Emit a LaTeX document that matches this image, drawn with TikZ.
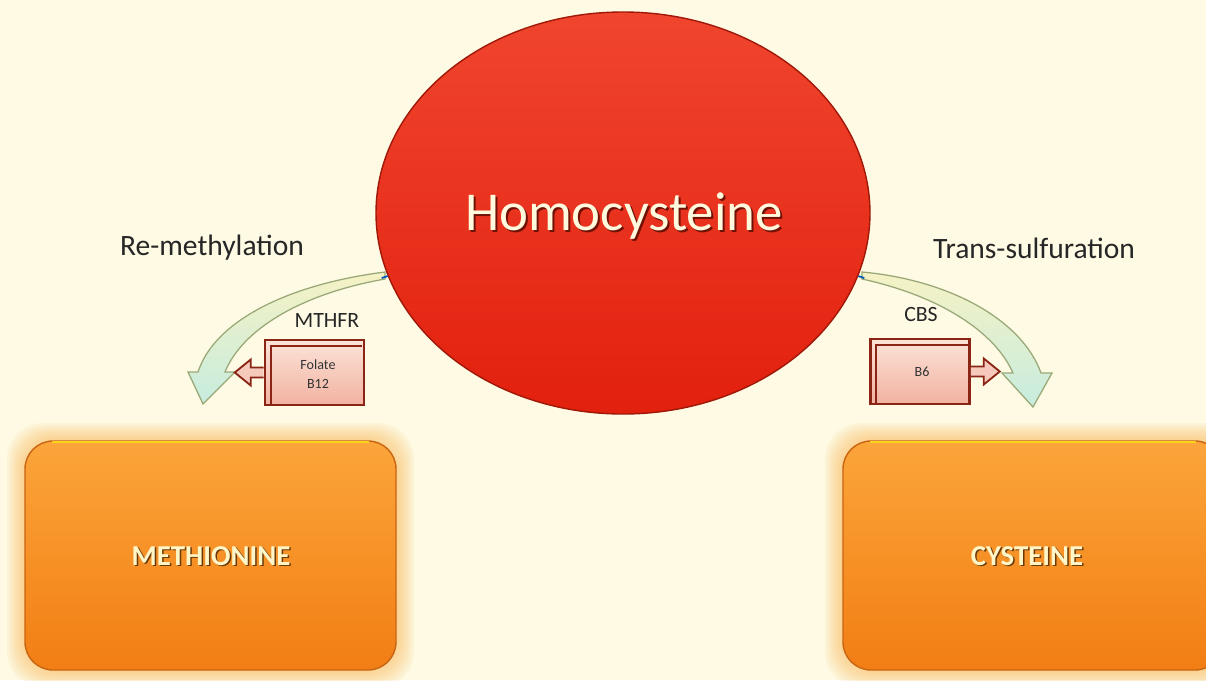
\documentclass[tikz,border=0pt]{standalone}
\usepackage{fontspec}
\setmainfont{Carlito}
\usetikzlibrary{shapes.geometric,calc}
\definecolor{bg}{HTML}{FEFAE4}
\definecolor{redtop}{HTML}{F0452E}
\definecolor{redbot}{HTML}{E2200E}
\definecolor{redline}{HTML}{A01808}
\definecolor{orgtop}{HTML}{FBA53A}
\definecolor{orgbot}{HTML}{F27E14}
\definecolor{orgline}{HTML}{C86412}
\definecolor{glow}{HTML}{FBB040}
\definecolor{pinktop}{HTML}{FBE3D8}
\definecolor{pinkbot}{HTML}{F2B2A0}
\definecolor{boxline}{HTML}{8A2414}
\definecolor{bandline}{HTML}{9AA878}
\definecolor{bandyel}{HTML}{F6F2C4}
\definecolor{bandcyan}{HTML}{C6ECDF}
\definecolor{txtlight}{HTML}{FFF6C8}
\definecolor{shadowbrown}{HTML}{6A3A08}
\tikzset{
  lbl/.style={font=\fontsize{21}{24}\selectfont, text=black!85},
  enz/.style={font=\fontsize{15.5}{18}\selectfont, text=black!85},
  vit/.style={font=\fontsize{10}{12}\selectfont, text=black!80},
  vitbox/.style={draw=boxline, line width=1.8pt, top color=pinktop, bottom color=pinkbot, minimum width=99*0.025cm, minimum height=65*0.025cm, inner sep=0pt, align=center},
  prodbox/.style={draw=orgline, line width=1pt, rounded corners=0.7cm, top color=orgtop, bottom color=orgbot, inner sep=0pt},
  blockarr/.style={draw=boxline, line width=1.3pt, fill=pinkbot!70!white, line join=miter},
  band/.style={draw=bandline, line width=0.9pt, top color=bandyel, bottom color=bandcyan},
  prodtxt/.style={font=\bfseries\fontsize{20.5}{24}\selectfont},
  hctxt/.style={font=\fontsize{39}{46}\selectfont},
}
\begin{document}
\begin{tikzpicture}[x=0.025cm,y=-0.025cm]
\useasboundingbox (0,0) rectangle (1206,680);
\fill[bg] (0,0) rectangle (1206,680);

% glows
\foreach \g in {18,16,...,2}{
  \fill[glow, opacity=0.07, rounded corners=0.9cm] (25-\g,441-\g) rectangle (396+\g,670+\g);
  \fill[glow, opacity=0.07, rounded corners=0.9cm] (843-\g,441-\g) rectangle (1226+\g,670+\g);
}

% product boxes
\node[prodbox, minimum width=371*0.025cm, minimum height=229*0.025cm] (met) at (210.5,555.5) {};
\node[prodbox, minimum width=380*0.025cm, minimum height=229*0.025cm] (cys) at (1033,555.5) {};
\draw[yellow!60!orgtop, line width=1.2pt] ($(met.north west)+(28,2)$) -- ($(met.north east)+(-28,2)$);
\draw[yellow!60!orgtop, line width=1.2pt] ($(cys.north west)+(28,2)$) -- ($(cys.north east)+(-28,2)$);

\node[prodtxt, text=shadowbrown] at (212.5,557.5) {METHIONINE};
\node[prodtxt, text=txtlight] (mett) at (211,556) {METHIONINE};
\node[prodtxt, text=shadowbrown] at (1028.5,557.5) {CYSTEINE};
\node[prodtxt, text=txtlight] (cyst) at (1027,556) {CYSTEINE};

% curved band arrows
\coordinate (lhead) at (203,404);
\coordinate (rhead) at (1033,407);
\draw[band] (385,272) .. controls (290,284) and (215,320) .. (198,372)
   -- (188,372) -- (lhead) -- (235,372) -- (225,372)
   .. controls (242,330) and (300,294) .. (385,279) -- cycle;
\draw[band] (862,272) .. controls (950,280) and (1022,320) .. (1041,373)
   -- (1052,373) -- (rhead) -- (1002,373) -- (1013,373)
   .. controls (995,332) and (940,296) .. (862,279) -- cycle;

% homocysteine ellipse
\node[ellipse, draw=redline, line width=1pt, top color=redtop, bottom color=redbot,
      minimum width=494*0.025cm, minimum height=402*0.025cm, inner sep=0pt] (hc) at (623,213) {};
\draw[blue!50!cyan!70!black, line width=1.2pt] (hc.195) -- ++(-6,2);
\draw[blue!50!cyan!70!black, line width=1.2pt] (hc.-15) -- ++(6,2);
\node[hctxt, text=redline!70!black] at (626,218) {Homocysteine};
\node[hctxt, text=txtlight!60!white] (hct) at (624,216) {Homocysteine};

% labels
\node[lbl] (rem) at (212,248) {Re-methylation};
\node[lbl] (trs) at (1034,248) {Trans-sulfuration};
\node[enz] (mthfr) at (327,320) {MTHFR};
\node[enz] (cbs) at (921,314) {CBS};

% vitamin boxes
\node[vitbox] (fb) at (314.5,372.5) {};
\draw[boxline, line width=1.1pt] ($(fb.south west)+(7,-2)$) |- ($(fb.north east)+(-3,7)$);
\node[vit, align=center] at (318,374) {Folate\\[2pt]B12};
\node[vitbox] (bb) at (920,371.5) {};
\draw[boxline, line width=1.1pt] ($(bb.south west)+(7,-2)$) |- ($(bb.north east)+(-3,7)$);
\node[vit] at (922,372) {B6};

% small block arrows
\draw[blockarr] ($(fb.west)+(0,-5)$) -- ++(-13,0) -- ++(0,-8) -- ++(-16,13) -- ++(16,13) -- ++(0,-8) -- ++(13,0);
\draw[blockarr] ($(bb.east)+(0,-5)$) -- ++(13,0) -- ++(0,-8) -- ++(16,13) -- ++(-16,13) -- ++(0,-8) -- ++(-13,0);
\end{tikzpicture}
\end{document}
